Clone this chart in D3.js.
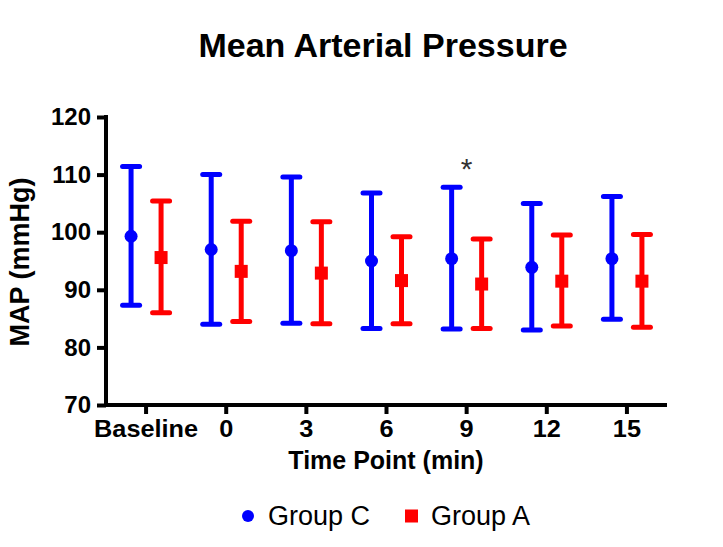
<!DOCTYPE html>
<html>
<head>
<meta charset="utf-8">
<script src="https://cdn.jsdelivr.net/npm/d3@7"></script>
<style>
  body { margin: 0; background: #fff; }
  text { font-family: "Liberation Sans", Arial, sans-serif; }
</style>
</head>
<body>
<div id="chart"></div>
<script>
const categories = ["Baseline", "0", "3", "6", "9", "12", "15"];
const yTicks = [70, 80, 90, 100, 110, 120];

// Group C (blue circles): mean, upper, lower
const groupCMean = [99.3, 97.0, 96.8, 95.0, 95.4, 93.9, 95.4];
const groupCHigh = [111.4, 110.0, 109.6, 106.8, 107.8, 105.0, 106.2];
const groupCLow = [87.3, 84.0, 84.2, 83.3, 83.2, 83.0, 84.9];

// Group A (red squares)
const groupAMean = [95.6, 93.2, 92.9, 91.6, 91.0, 91.5, 91.5];
const groupAHigh = [105.4, 101.9, 101.8, 99.2, 98.8, 99.5, 99.6];
const groupALow = [86.0, 84.5, 84.1, 84.1, 83.3, 83.7, 83.5];

const starAt = { cat: "9", value: 112 };

const width = 723, height = 547;
const margin = { left: 106, right: 56, top: 117, bottom: 142 };

const svg = d3.select("#chart").append("svg")
    .attr("width", width)
    .attr("height", height);

const x = d3.scaleBand()
    .domain(categories)
    .range([margin.left, width - margin.right]);

const y = d3.scaleLinear()
    .domain([70, 120])
    .range([height - margin.bottom, margin.top]);

// title
svg.append("text")
    .attr("x", 383).attr("y", 57)
    .attr("text-anchor", "middle")
    .attr("font-size", 34).attr("font-weight", "bold")
    .text("Mean Arterial Pressure");

// axes
const yAxis = svg.append("g")
    .attr("transform", `translate(${margin.left},0)`)
    .call(d3.axisLeft(y).tickValues(yTicks).tickSize(9).tickPadding(6).tickSizeOuter(0));
const xAxis = svg.append("g")
    .attr("transform", `translate(0,${height - margin.bottom})`)
    .call(d3.axisBottom(x).tickSize(9).tickPadding(7).tickSizeOuter(0));

[yAxis, xAxis].forEach(g => {
    g.select(".domain").attr("stroke", "#000").attr("stroke-width", 4);
    g.selectAll(".tick line").attr("stroke", "#000").attr("stroke-width", 4);
    g.selectAll(".tick text")
        .attr("fill", "#000")
        .attr("font-weight", "bold");
});
yAxis.selectAll(".tick text").style("font-size", "24px");
xAxis.selectAll(".tick text")
    .style("font-size", "23px")
    .attr("transform", "scale(1.1,1)");
yAxis.select(".domain").attr("d", `M0,${y(120) - 2}V${y(70)}`);
xAxis.select(".domain").attr("d", `M${margin.left - 2},0H${width - margin.right}`);

// axis titles
svg.append("text")
    .attr("transform", `translate(29,${y(95) + 1}) rotate(-90)`)
    .attr("text-anchor", "middle")
    .attr("font-size", 27).attr("font-weight", "bold")
    .text("MAP (mmHg)");

svg.append("text")
    .attr("x", 386).attr("y", 469)
    .attr("text-anchor", "middle")
    .attr("font-size", 25).attr("font-weight", "bold")
    .text("Time Point (min)");

const series = [
    { name: "Group C", color: "#0000ff", mean: groupCMean, high: groupCHigh, low: groupCLow, dx: -15, shape: "circle" },
    { name: "Group A", color: "#ff0000", mean: groupAMean, high: groupAHigh, low: groupALow, dx: 15, shape: "square" }
];

const capW = 17;

series.forEach(s => {
    const g = svg.append("g");
    const cx = i => x(categories[i]) + x.bandwidth() / 2 + s.dx;
    const pts = s.mean.map((m, i) => ({ m, hi: s.high[i], lo: s.low[i], i }));

    g.selectAll(".bar").data(pts).join("line")
        .attr("x1", d => cx(d.i)).attr("x2", d => cx(d.i))
        .attr("y1", d => y(d.hi)).attr("y2", d => y(d.lo))
        .attr("stroke", s.color).attr("stroke-width", 5);

    ["hi", "lo"].forEach(k => {
        g.selectAll(".cap-" + k).data(pts).join("line")
            .attr("x1", d => cx(d.i) - capW / 2).attr("x2", d => cx(d.i) + capW / 2)
            .attr("y1", d => y(d[k])).attr("y2", d => y(d[k]))
            .attr("stroke", s.color).attr("stroke-width", 5)
            .attr("stroke-linecap", "round");
    });

    if (s.shape === "circle") {
        g.selectAll(".pt").data(pts).join("circle")
            .attr("cx", d => cx(d.i)).attr("cy", d => y(d.m))
            .attr("r", 6.5).attr("fill", s.color);
    } else {
        g.selectAll(".pt").data(pts).join("rect")
            .attr("x", d => cx(d.i) - 6.5).attr("y", d => y(d.m) - 6.5)
            .attr("width", 13).attr("height", 13).attr("fill", s.color);
    }
});

// significance mark
svg.append("text")
    .attr("x", x(starAt.cat) + x.bandwidth() / 2)
    .attr("y", y(starAt.value) + 16)
    .attr("text-anchor", "middle")
    .attr("font-size", 30).attr("fill", "#333")
    .text("*");

// legend
const legend = svg.append("g").attr("transform", "translate(0,516)");
legend.append("circle").attr("cx", 248).attr("cy", 0).attr("r", 6).attr("fill", series[0].color);
legend.append("text").attr("x", 268).attr("y", 9).attr("font-size", 27).text(series[0].name);
legend.append("rect").attr("x", 405).attr("y", -6.5).attr("width", 13).attr("height", 13).attr("fill", series[1].color);
legend.append("text").attr("x", 431).attr("y", 9).attr("font-size", 27).text(series[1].name);
</script>
</body>
</html>
